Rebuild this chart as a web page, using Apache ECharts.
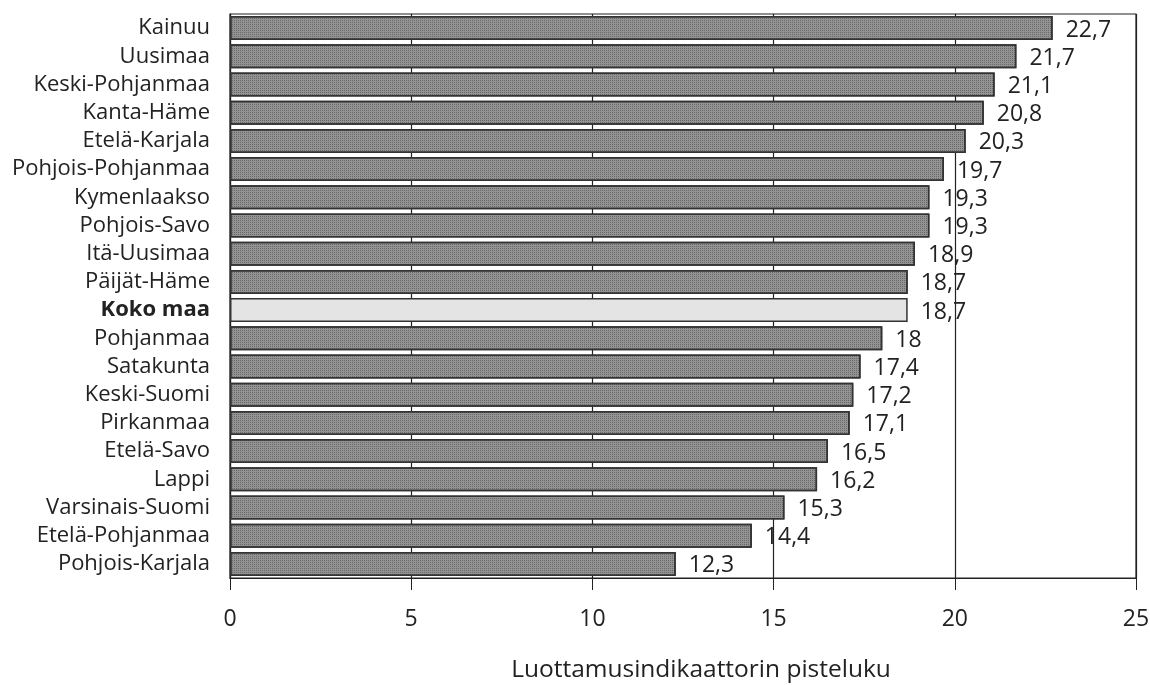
<!DOCTYPE html>
<html><head><meta charset="utf-8">
<script src="https://cdn.jsdelivr.net/npm/echarts@6/dist/echarts.min.js"></script>
<style>html,body{margin:0;padding:0;background:#fff}#c{width:1150px;height:685px}</style>
</head><body><div id="c"></div>
<script>
const categories = ["Kainuu","Uusimaa","Keski-Pohjanmaa","Kanta-Häme","Etelä-Karjala","Pohjois-Pohjanmaa","Kymenlaakso","Pohjois-Savo","Itä-Uusimaa","Päijät-Häme","Koko maa","Pohjanmaa","Satakunta","Keski-Suomi","Pirkanmaa","Etelä-Savo","Lappi","Varsinais-Suomi","Etelä-Pohjanmaa","Pohjois-Karjala"];
const values = [22.7,21.7,21.1,20.8,20.3,19.7,19.3,19.3,18.9,18.7,18.7,18,17.4,17.2,17.1,16.5,16.2,15.3,14.4,12.3];
const highlight = "Koko maa";
const xTicks = [0,5,10,15,20,25];
const axisTitle = "Luottamusindikaattorin pisteluku";

const FONT = "'Open Sans', sans-serif";
const dots = {symbol: 'rect', symbolSize: 1, dashArrayX: [1, 1], dashArrayY: [1, 1], color: 'rgba(30,30,30,0.35)', rotation: 0};
const chart = echarts.init(document.getElementById('c'));
chart.setOption({
  animation: false,
  grid: {left: 230, right: 14, top: 14, bottom: 107, show: true, borderColor: '#222', borderWidth: 1.2,
    containLabel: false, outerBoundsMode: 'none'},
  xAxis: {
    type: 'value', min: 0, max: 25, interval: 5,
    name: axisTitle, nameLocation: 'middle', nameGap: 80,
    nameTextStyle: {fontFamily: FONT, fontSize: 24.5, color: '#222', padding: [0, 0, 0, 36]},
    axisLine: {show: true, lineStyle: {color: '#222', width: 1.2}},
    axisTick: {show: true, length: 12, lineStyle: {color: '#222'}},
    axisLabel: {fontFamily: FONT, fontSize: 23, color: '#222', margin: 30, hideOverlap: false,
      formatter: v => xTicks.includes(v) ? String(v) : ''},
    splitLine: {show: true, lineStyle: {color: '#222', width: 1.2}}
  },
  yAxis: {
    type: 'category', data: categories, inverse: true,
    axisLine: {show: true, lineStyle: {color: '#222', width: 1.2}},
    axisTick: {show: false},
    axisLabel: {interval: 0, hideOverlap: false, fontFamily: FONT, fontSize: 22, color: '#222', margin: 20,
      formatter: v => v === highlight ? '{b|' + v + '}' : v,
      rich: {b: {fontFamily: FONT, fontSize: 22, fontWeight: 'bold', color: '#222'}}}
  },
  series: [{
    type: 'bar', barCategoryGap: '15%',
    data: values.map((v, i) => ({
      value: v,
      itemStyle: categories[i] === highlight
        ? {color: '#e4e4e4', borderColor: '#333', borderWidth: 1.5}
        : {color: '#939393', borderColor: '#333', borderWidth: 1.5, decal: dots}
    })),
    label: {show: true, position: 'right', distance: 13, offset: [0, 2],
      fontFamily: FONT, fontSize: 23, color: '#222',
      formatter: p => String(p.value).replace('.', ',')}
  }]
});
</script></body></html>
